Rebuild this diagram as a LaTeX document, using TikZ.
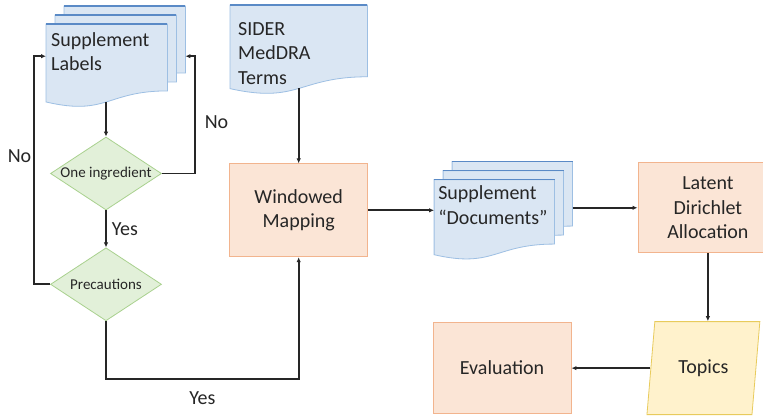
\documentclass[tikz,border=0pt]{standalone}
\usepackage{fontspec}
\setmainfont{Carlito}
\usetikzlibrary{positioning, arrows.meta, shapes.geometric, calc, backgrounds}

\definecolor{docfill}{HTML}{DAE6F3}
\definecolor{docline}{HTML}{9DBFE3}
\definecolor{doctop}{HTML}{5A8AC6}
\definecolor{procfill}{HTML}{FBE5D6}
\definecolor{procline}{HTML}{F2B48E}
\definecolor{decfill}{HTML}{E2F0D9}
\definecolor{decline}{HTML}{A9D18E}
\definecolor{iofill}{HTML}{FFF2CC}
\definecolor{ioline}{HTML}{E8CB5C}
\definecolor{flow}{HTML}{262626}

\newcommand{\sheetoff}{9}
% stack of wavy sheets filling a node: #1 node, #2 sheets behind the front one
\newcommand{\docstack}[2]{%
  \foreach \k in {#2,...,0}{%
    \path[sheet, x=1pt, y=1pt] let \p1=(#1.north west), \p2=(#1.south east),
        \n1={\x2-\x1-#2*\sheetoff}, \n2={\y1-\y2-#2*\sheetoff},
        \n3={\x1+\k*\sheetoff}, \n4={\y1-(#2-\k)*\sheetoff} in
      (\n3,\n4) -- ({\n3+\n1},\n4) -- ({\n3+\n1},{\n4-0.812*\n2})
      .. controls ({\n3+0.5*\n1},{\n4-0.812*\n2}) and ({\n3+0.5*\n1},{\n4-1.12*\n2})
      .. (\n3,{\n4-0.946*\n2}) -- cycle;
    \path[sheettop, x=1pt, y=1pt] let \p1=(#1.north west), \p2=(#1.south east),
        \n1={\x2-\x1-#2*\sheetoff},
        \n3={\x1+\k*\sheetoff}, \n4={\y1-(#2-\k)*\sheetoff} in
      (\n3,\n4) -- ({\n3+\n1},\n4);
  }}

\begin{document}
\begin{tikzpicture}[
    x=1pt, y=-1pt,
    font=\fontsize{20}{24.5}\selectfont,
    text=flow,
    >={Latex[length=5pt, width=4.5pt]},
    paper/.style={
        rectangle, inner sep=0pt, draw=none
    },
    doctext/.style={
        anchor=north west, align=left, inner xsep=5pt, inner ysep=0pt
    },
    sheet/.style={fill=docfill, draw=docline, line width=0.8pt},
    sheettop/.style={draw=doctop, line width=1.5pt},
    process/.style={
        rectangle, draw=procline, fill=procfill, line width=0.8pt,
        align=center
    },
    decision/.style={
        diamond, draw=decline, fill=decfill, line width=0.8pt,
        minimum width=111pt, minimum height=73pt, inner sep=0pt,
        font=\fontsize{15}{18}\selectfont
    },
    inout/.style={
        trapezium, trapezium left angle=79, trapezium right angle=101,
        trapezium stretches=true, draw=ioline, fill=iofill, line width=0.8pt,
        minimum width=113pt, minimum height=93pt
    },
    flowline/.style={->, draw=flow, line width=1.7pt},
    lbl/.style={inner sep=2pt}
]
\useasboundingbox (0,0) rectangle (763,417);

% ============ LABEL FILTER (left) ============
\node[paper, minimum width=139pt, minimum height=100pt, anchor=north west,
      label={[doctext, name=labelstxt, yshift=-26pt]north west:Supplement\\Labels}]
    (labels) at (46,6) {};
\node[decision] (one) at (106,173.5) {\makebox[0pt]{One ingredient}};
\node[decision, below=37pt of one] (prec) {\makebox[0pt]{Precautions}};

% ============ MAIN FLOW ============
\node[paper, minimum width=137pt, minimum height=88pt, anchor=north west,
      label={[doctext, name=sidertxt, xshift=3pt, yshift=-17pt]north west:SIDER\\MedDRA\\Terms}]
    (sider) at (230,5) {};
\node[process, minimum width=138pt, minimum height=93pt, below=70pt of sider]
    (wm) {Windowed\\Mapping};
\node[paper, minimum width=138pt, minimum height=97pt, right=66pt of wm,
      label={[doctext, name=docstxt, inner xsep=4pt, yshift=-24pt]north west:Supplement\\``Documents''}]
    (docs) {};
\node[process, minimum width=140pt, minimum height=90pt, right=65pt of docs, yshift=2.5pt]
    (lda) {Latent\\Dirichlet\\Allocation};
\node[inout, below=68pt of lda, xshift=-4.5pt] (topics) {Topics};
\node[process, minimum width=138pt, minimum height=91pt, left=79pt of topics]
    (eval) {Evaluation};

% paper sheets behind the texts
\begin{scope}[on background layer]
\fill[white] (0,0) rectangle (763,417);
\docstack{labels}{2}
\docstack{sider}{0}
\docstack{docs}{2}
\end{scope}

% ============ ARROWS ============
\draw[flowline, shorten <=-4pt] (labels.south -| one.north) -- (one.north);
\draw[flowline] (one) -- node[right=3pt, lbl] {Yes} (prec);
\draw[flowline] (one.east) -- ++(33,0) |- (labels.east)
    node[pos=0.22, right=7pt, lbl] {No};
\draw[flowline] (prec.west) -- ++(-16,0) |- (labels.west)
    node[pos=0.28, left=0pt, lbl] {No};
\draw[flowline] (prec.south) -- ++(0,58) -| (wm.south)
    node[pos=0.25, below=10pt, lbl] {Yes};

\draw[flowline, shorten <=-5pt] (sider) -- (wm);
\draw[flowline] (wm.east) -- (wm.east -| docs.west);
\draw[flowline] (docs.east |- lda.west) -- (lda.west);
\draw[flowline] (lda.south) -- (lda.south |- topics.north);
\draw[flowline] (topics.west) -- (topics.west -| eval.east);

\end{tikzpicture}
\end{document}
